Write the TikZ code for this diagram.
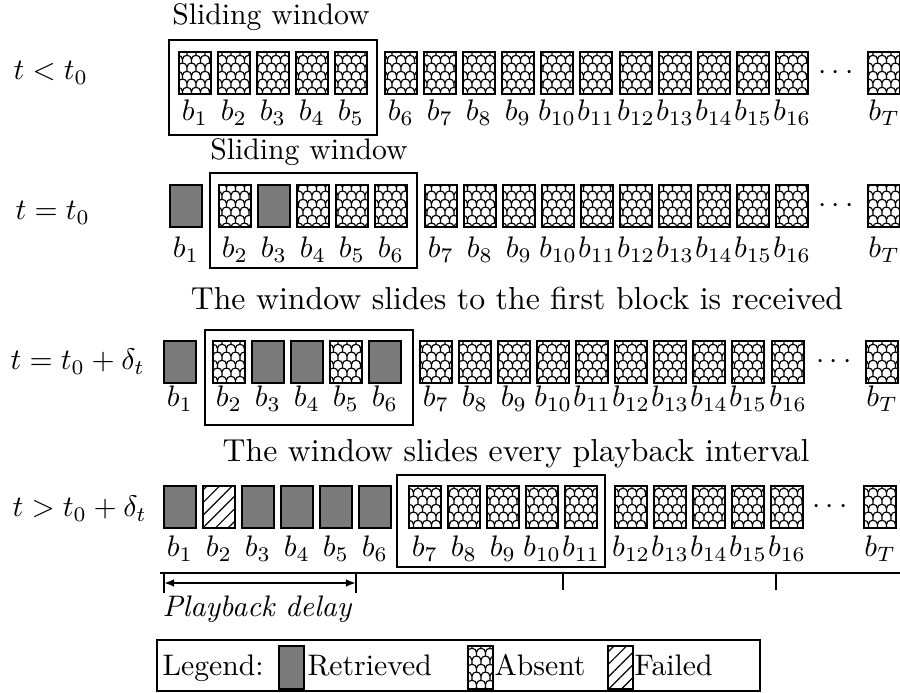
\documentclass[tikz,border=0pt]{standalone}
\usetikzlibrary{patterns,patterns.meta,arrows.meta}
\pgfdeclarepatternformonly{fishscale}{\pgfqpoint{0pt}{0pt}}{\pgfqpoint{3pt}{5.4pt}}{\pgfqpoint{3pt}{5.4pt}}{%
  \pgfsetlinewidth{0.4pt}%
  \pgfpathmoveto{\pgfqpoint{0pt}{0.3pt}}%
  \pgfpathcurveto{\pgfqpoint{0pt}{2.2pt}}{\pgfqpoint{3pt}{2.2pt}}{\pgfqpoint{3pt}{0.3pt}}%
  \pgfpathmoveto{\pgfqpoint{-1.5pt}{3.0pt}}%
  \pgfpathcurveto{\pgfqpoint{-1.5pt}{4.9pt}}{\pgfqpoint{1.5pt}{4.9pt}}{\pgfqpoint{1.5pt}{3.0pt}}%
  \pgfpathcurveto{\pgfqpoint{1.5pt}{4.9pt}}{\pgfqpoint{4.5pt}{4.9pt}}{\pgfqpoint{4.5pt}{3.0pt}}%
  \pgfpathmoveto{\pgfqpoint{1.5pt}{1.725pt}}\pgfpathlineto{\pgfqpoint{1.5pt}{3.0pt}}%
  \pgfpathmoveto{\pgfqpoint{0pt}{-0.975pt}}\pgfpathlineto{\pgfqpoint{0pt}{0.3pt}}%
  \pgfpathmoveto{\pgfqpoint{3pt}{-0.975pt}}\pgfpathlineto{\pgfqpoint{3pt}{0.3pt}}%
  \pgfpathmoveto{\pgfqpoint{0pt}{4.425pt}}\pgfpathlineto{\pgfqpoint{0pt}{5.7pt}}%
  \pgfpathmoveto{\pgfqpoint{3pt}{4.425pt}}\pgfpathlineto{\pgfqpoint{3pt}{5.7pt}}%
  \pgfusepath{stroke}%
}
\def\px{0.3367pt}
\tikzset{
  blk/.style={draw, line width=0.5pt, inner sep=0pt, outer sep=0pt,
    minimum width=32*\px, minimum height=42*\px, anchor=north west},
  ret/.style={blk, fill=black!52},
  absent/.style={blk, pattern=fishscale},
  fai/.style={blk, pattern={Lines[angle=45,distance=3pt,line width=0.4pt]}},
  swatch/.style={minimum width=25*\px, minimum height=43*\px},
  win/.style={draw, line width=1pt},
  lbl/.style={anchor=base, inner sep=0pt},
  rowlbl/.style={anchor=base west, inner sep=0pt},
  bigtitle/.style={lbl, font=\fontsize{10.7pt}{13pt}\selectfont},
}
\begin{document}
\begin{tikzpicture}[x=0.3367pt, y=-0.3367pt]
\useasboundingbox (0,0) rectangle (900,693);

% ---------- Row 1 ----------
\node[rowlbl] (s1) at (13,80) {$t<t_0$};
\node[lbl] (t1) at (271,25) {Sliding window};
\draw[win] (169,40) rectangle (377,135);
\foreach \i/\x in {1/179,2/218,3/257,4/296,5/335,6/385,7/424,8/463,9/502,10/541,11/580,12/620,13/659,14/698,15/737,16/776}{
  \node[absent] (ra\i) at (\x,52) {};
  \node[lbl] (la\i) at (\x+16,121) {$b_{\i}$};
}
\node[absent] (raT) at (868,52) {};
\node[lbl] (laT) at (884,121) {$b_T$};
\node[lbl] (da) at (836,80) {$\cdots$};

% ---------- Row 2 ----------
\node[rowlbl] (s2) at (15,220) {$t=t_0$};
\node[lbl] (t2) at (309,160) {Sliding window};
\draw[win] (210,173) rectangle (417,268);
\foreach \i/\x/\s in {1/170/ret,2/219/absent,3/258/ret,4/297/absent,5/336/absent,6/375/absent,7/425/absent,8/464/absent,9/503/absent,10/542/absent,11/581/absent,12/620/absent,13/659/absent,14/698/absent,15/737/absent,16/776/absent}{
  \node[\s] (rb\i) at (\x,185) {};
  \node[lbl] (lb\i) at (\x+16,258) {$b_{\i}$};
}
\node[absent] (rbT) at (868,185) {};
\node[lbl] (lbT) at (884,258) {$b_T$};
\node[lbl] (db) at (836,213) {$\cdots$};

% ---------- Row 3 ----------
\node[rowlbl] (s3) at (10,370) {$t=t_0+\delta_t$};
\node[bigtitle] (t3) at (517,310) {The window slides to the first block is received};
\draw[win] (205,330) rectangle (413,425);
\foreach \i/\x/\s in {1/164/ret,2/213/absent,3/252/ret,4/291/ret,5/330/absent,6/369/ret,7/420/absent,8/459/absent,9/498/absent,10/537/absent,11/576/absent,12/615/absent,13/654/absent,14/693/absent,15/732/absent,16/772/absent}{
  \node[\s] (rc\i) at (\x,341) {};
  \node[lbl] (lc\i) at (\x+16,407) {$b_{\i}$};
}
\node[absent] (rcT) at (866,341) {};
\node[lbl] (lcT) at (882,407) {$b_T$};
\node[lbl] (dc) at (834,369) {$\cdots$};

% ---------- Row 4 ----------
\node[rowlbl] (s4) at (12,517) {$t>t_0+\delta_t$};
\node[bigtitle] (t4) at (516,462) {The window slides every playback interval};
\draw[win] (397,475) rectangle (605,567);
\foreach \i/\x/\s in {1/164/ret,2/203/fai,3/242/ret,4/281/ret,5/320/ret,6/359/ret,7/409/absent,8/448/absent,9/487/absent,10/526/absent,11/565/absent,12/615/absent,13/654/absent,14/693/absent,15/732/absent,16/771/absent}{
  \node[\s] (rd\i) at (\x,486) {};
  \node[lbl] (ld\i) at (\x+16,557) {$b_{\i}$};
}
\node[absent] (rdT) at (864,486) {};
\node[lbl] (ldT) at (880,557) {$b_T$};
\node[lbl] (dd) at (830,514) {$\cdots$};

% ---------- Timeline ----------
\coordinate (tl0) at (160,573);
\coordinate (tl1) at (900,573);
\draw[line width=0.8pt] (tl0) -- (tl1);
\coordinate (k1a) at (164,573); \coordinate (k1b) at (164,593);
\coordinate (k2a) at (356,573); \coordinate (k2b) at (356,593);
\coordinate (k3a) at (563,573); \coordinate (k3b) at (563,590);
\coordinate (k4a) at (776,573); \coordinate (k4b) at (776,590);
\draw[line width=0.7pt] (k1a) -- (k1b) (k2a) -- (k2b) (k3a) -- (k3b) (k4a) -- (k4b);
\coordinate (a0) at (164,583);
\coordinate (a1) at (356,583);
\draw[line width=0.7pt, {Latex[length=3.4pt,width=2.6pt]}-{Latex[length=3.4pt,width=2.6pt]}] (a0) -- (a1);
\node[rowlbl] (pd) at (162,617) {\itshape Playback delay};

% ---------- Legend ----------
\draw[line width=0.8pt] (157,640) rectangle (760,691);
\node[rowlbl] (lg) at (162,676) {Legend:};
\node[ret, swatch] (sw1) at (279,646) {};
\node[rowlbl] (lg1) at (307,676) {Retrieved};
\node[absent, swatch] (sw2) at (468,646) {};
\node[rowlbl] (lg2) at (494,676) {Absent};
\node[fai, swatch] (sw3) at (608,646) {};
\node[rowlbl] (lg3) at (634,676) {Failed};
\end{tikzpicture}
\end{document}
